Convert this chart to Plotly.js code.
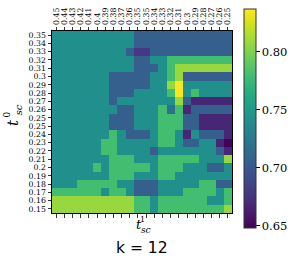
<!DOCTYPE html>
<html>
<head>
<meta charset="utf-8">
<script src="https://cdn.plot.ly/plotly-3.0.1.min.js"></script>
<style>html,body{margin:0;padding:0;background:#fff;}#chart{width:300px;height:264px;}</style>
</head>
<body>
<div id="chart"></div>
<script>
// tick labels (x: t_sc^1 left to right, y: t_sc^0 top to bottom)
var xLabels = ["0.45","0.44","0.43","0.42","0.41","0.4","0.39","0.38","0.37","0.36","0.35","0.35","0.34","0.33","0.32","0.31","0.3","0.29","0.28","0.27","0.26","0.25"];
var yLabels = ["0.35","0.34","0.33","0.32","0.31","0.3","0.29","0.28","0.27","0.26","0.25","0.25","0.24","0.23","0.22","0.21","0.2","0.19","0.18","0.17","0.16","0.15"];

// cell values, one row per y label (top to bottom)
var row035 = [0.742,0.742,0.742,0.742,0.742,0.742,0.742,0.742,0.742,0.742,0.705,0.705,0.705,0.705,0.705,0.705,0.705,0.705,0.705,0.705,0.705,0.705];
var row034 = [0.742,0.742,0.742,0.742,0.742,0.742,0.742,0.742,0.742,0.742,0.705,0.705,0.705,0.705,0.705,0.705,0.705,0.705,0.705,0.705,0.705,0.705];
var row033 = [0.742,0.742,0.742,0.742,0.742,0.742,0.742,0.742,0.742,0.705,0.679,0.679,0.705,0.705,0.705,0.705,0.705,0.705,0.705,0.705,0.705,0.705];
var row032 = [0.742,0.742,0.742,0.742,0.742,0.742,0.742,0.742,0.742,0.742,0.705,0.705,0.742,0.742,0.780,0.780,0.780,0.780,0.780,0.780,0.780,0.780];
var row031 = [0.742,0.742,0.742,0.742,0.742,0.742,0.742,0.742,0.742,0.742,0.705,0.705,0.705,0.742,0.780,0.808,0.808,0.808,0.808,0.808,0.808,0.808];
var row030 = [0.742,0.742,0.742,0.742,0.742,0.742,0.742,0.705,0.705,0.705,0.705,0.705,0.742,0.742,0.780,0.808,0.705,0.705,0.705,0.705,0.705,0.705];
var row029 = [0.742,0.742,0.742,0.742,0.742,0.742,0.742,0.705,0.705,0.705,0.705,0.705,0.742,0.742,0.808,0.836,0.742,0.742,0.742,0.742,0.742,0.742];
var row028 = [0.742,0.742,0.742,0.742,0.742,0.742,0.742,0.705,0.705,0.705,0.742,0.742,0.742,0.742,0.780,0.836,0.742,0.780,0.742,0.742,0.742,0.742];
var row027 = [0.742,0.742,0.742,0.742,0.742,0.742,0.742,0.705,0.742,0.742,0.742,0.742,0.742,0.742,0.742,0.808,0.705,0.668,0.668,0.668,0.668,0.668];
var row026 = [0.742,0.742,0.742,0.742,0.742,0.742,0.742,0.742,0.705,0.705,0.742,0.742,0.742,0.780,0.718,0.780,0.668,0.705,0.705,0.705,0.705,0.705];
var row025a = [0.742,0.742,0.742,0.742,0.742,0.742,0.742,0.705,0.705,0.705,0.742,0.742,0.742,0.780,0.780,0.780,0.705,0.705,0.668,0.668,0.668,0.668];
var row025b = [0.742,0.742,0.742,0.742,0.742,0.742,0.742,0.705,0.705,0.705,0.742,0.742,0.742,0.780,0.780,0.780,0.705,0.705,0.668,0.668,0.668,0.668];
var row024 = [0.742,0.742,0.742,0.742,0.742,0.742,0.742,0.780,0.742,0.705,0.705,0.705,0.742,0.780,0.780,0.742,0.668,0.742,0.705,0.705,0.705,0.668];
var row023 = [0.742,0.742,0.742,0.742,0.742,0.742,0.780,0.780,0.742,0.742,0.742,0.742,0.742,0.780,0.780,0.742,0.705,0.705,0.742,0.742,0.668,0.649];
var row022 = [0.742,0.742,0.742,0.742,0.742,0.742,0.780,0.780,0.742,0.742,0.742,0.742,0.705,0.742,0.742,0.742,0.742,0.742,0.742,0.742,0.705,0.668];
var row021 = [0.742,0.742,0.742,0.742,0.742,0.742,0.742,0.780,0.780,0.780,0.742,0.742,0.742,0.780,0.780,0.780,0.780,0.780,0.742,0.742,0.742,0.808];
var row020 = [0.742,0.742,0.742,0.742,0.742,0.780,0.742,0.780,0.780,0.780,0.780,0.780,0.742,0.780,0.780,0.780,0.742,0.742,0.742,0.705,0.705,0.742];
var row019 = [0.742,0.742,0.742,0.742,0.742,0.742,0.742,0.780,0.780,0.780,0.742,0.742,0.742,0.780,0.780,0.742,0.742,0.742,0.742,0.742,0.742,0.742];
var row018 = [0.742,0.742,0.742,0.780,0.780,0.780,0.780,0.780,0.742,0.742,0.705,0.705,0.705,0.742,0.742,0.742,0.742,0.742,0.780,0.780,0.705,0.705];
var row017 = [0.780,0.780,0.780,0.780,0.780,0.780,0.742,0.780,0.780,0.742,0.705,0.705,0.705,0.742,0.742,0.742,0.780,0.780,0.780,0.780,0.742,0.780];
var row016 = [0.808,0.808,0.808,0.808,0.808,0.808,0.808,0.808,0.808,0.808,0.780,0.780,0.742,0.780,0.780,0.780,0.780,0.780,0.780,0.742,0.742,0.780];
var row015 = [0.808,0.808,0.808,0.808,0.808,0.808,0.808,0.808,0.808,0.808,0.780,0.780,0.742,0.780,0.780,0.780,0.780,0.780,0.780,0.780,0.780,0.808];

var zRows = [row035,row034,row033,row032,row031,row030,row029,row028,row027,row026,row025a,row025b,row024,row023,row022,row021,row020,row019,row018,row017,row016,row015];
var colorTicks = [0.65, 0.70, 0.75, 0.80];
var zMin = 0.648, zMax = 0.837;

// layout helpers (pixel -> paper)
var L = 52, T = 31, W = 182, H = 182;
function px(x){ return (x - L) / W; }
function py(y){ return (T + H - y) / H; }

var idxX = xLabels.map(function(_, i){ return i; });
var idxY = yLabels.map(function(_, i){ return i; });

var trace = {
  type: 'heatmap',
  x: idxX,
  y: idxY,
  z: zRows,
  colorscale: 'Viridis',
  zmin: zMin,
  zmax: zMax,
  hoverinfo: 'none',
  colorbar: {
    x: px(245.7), xanchor: 'left', xpad: 0,
    y: py(118.5), yanchor: 'middle', ypad: 0,
    thickness: 11.5, thicknessmode: 'pixels',
    len: 219, lenmode: 'pixels',
    outlinewidth: 1, outlinecolor: '#333',
    ticks: 'outside', ticklen: 3.5, tickwidth: 1, tickcolor: '#000',
    tickvals: colorTicks,
    ticktext: colorTicks.map(function(v){ return v.toFixed(2); }),
    tickfont: {family: 'DejaVu Serif', size: 11.5, color: '#000'}
  }
};

var serif = 'DejaVu Serif';
var layout = {
  width: 300, height: 264,
  margin: {l: L, r: 300 - L - W, t: T, b: 264 - T - H, pad: 0},
  paper_bgcolor: '#fff', plot_bgcolor: '#fff',
  showlegend: false,
  xaxis: {
    side: 'top', range: [-0.5, 21.5], tickmode: 'array',
    tickvals: idxX, ticktext: xLabels, tickangle: -90,
    ticks: 'outside', ticklen: 3.5, tickwidth: 0.8, tickcolor: '#000',
    showline: true, linecolor: '#000', linewidth: 1, mirror: 'ticks',
    showgrid: false, zeroline: false,
    tickfont: {family: serif, size: 7.8, color: '#000'}
  },
  yaxis: {
    range: [21.5, -0.5], tickmode: 'array',
    tickvals: idxY, ticktext: yLabels,
    ticks: 'outside', ticklen: 3.5, tickwidth: 0.8, tickcolor: '#000',
    showline: true, linecolor: '#000', linewidth: 1, mirror: true,
    showgrid: false, zeroline: false,
    tickfont: {family: serif, size: 7.8, color: '#000'}
  },
  annotations: [
    {xref:'paper', yref:'paper', x:px(139.5), y:py(224), text:'<i>t</i>', showarrow:false, xanchor:'center', yanchor:'middle', font:{family:serif, size:13, color:'#000'}},
    {xref:'paper', yref:'paper', x:px(144), y:py(219.5), text:'1', showarrow:false, xanchor:'center', yanchor:'middle', font:{family:serif, size:8, color:'#000'}},
    {xref:'paper', yref:'paper', x:px(147.5), y:py(230), text:'<i>sc</i>', showarrow:false, xanchor:'center', yanchor:'middle', font:{family:serif, size:9, color:'#000'}},
    {xref:'paper', yref:'paper', x:px(12.5), y:py(122), text:'<i>t</i>', showarrow:false, textangle:-90, xanchor:'center', yanchor:'middle', font:{family:serif, size:15, color:'#000'}},
    {xref:'paper', yref:'paper', x:px(7), y:py(114), text:'0', showarrow:false, textangle:-90, xanchor:'center', yanchor:'middle', font:{family:serif, size:9, color:'#000'}},
    {xref:'paper', yref:'paper', x:px(18.5), y:py(109.5), text:'<i>sc</i>', showarrow:false, textangle:-90, xanchor:'center', yanchor:'middle', font:{family:serif, size:10, color:'#000'}},
    {xref:'paper', yref:'paper', x:px(143), y:py(248), text:'k = 12', showarrow:false, xanchor:'center', yanchor:'middle', font:{family:'DejaVu Sans', size:15.5, color:'#000'}}
  ]
};

Plotly.newPlot('chart', [trace], layout, {staticPlot: true, displayModeBar: false});
</script>
</body>
</html>
